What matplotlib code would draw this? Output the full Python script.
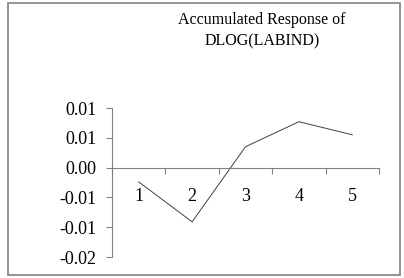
import numpy as np
import matplotlib.pyplot as plt
from matplotlib.patches import Rectangle

periods = [1, 2, 3, 4, 5]
response = [-0.0024, -0.0091, 0.0035, 0.0077, 0.0055]
yticks = [-0.015, -0.010, -0.005, 0.0, 0.005, 0.010]
ytick_labels = ['-0.02', '-0.01', '-0.01', '0.00', '0.01', '0.01']
title = 'Accumulated Response of\nDLOG(LABIND)'

plt.rcParams['font.family'] = ['Liberation Serif', 'DejaVu Serif']

fig = plt.figure(figsize=(4.04, 2.78), dpi=100)
fig.patches.append(Rectangle((8/404, 3/278), 392/404, 272/278, transform=fig.transFigure,
                             fill=False, edgecolor='#808080', linewidth=1.2))

ax = fig.add_axes([112/404, 1 - 257/278, 267/404, 149/278])
ax.plot(periods, response, color='#404040', linewidth=0.7)

ax.set_xlim(0.5, 5.5)
ax.set_ylim(-0.015, 0.010)

for s in ['top', 'right']:
    ax.spines[s].set_visible(False)
ax.spines['left'].set_color('#808080')
ax.spines['bottom'].set_color('#808080')
ax.spines['bottom'].set_position(('data', 0))

# ticks between categories, labels at centers
ax.set_xticks(np.arange(0.5, 6.0, 1.0))
ax.set_xticklabels([])
ax.set_xticks(periods, minor=True)
ax.set_xticklabels([str(p) for p in periods], minor=True)
ax.tick_params(axis='x', which='major', direction='out', length=4, color='#808080')
ax.tick_params(axis='x', which='minor', length=0, pad=15, labelsize=13)

ax.set_yticks(yticks)
ax.set_yticklabels(ytick_labels)
ax.tick_params(axis='y', direction='out', length=4, color='#808080', pad=7, labelsize=13)

fig.text(262/404, 1 - 31/278, title, ha='center', va='center', fontsize=11.5,
         linespacing=1.45)

fig.savefig('out.png', dpi=100)
